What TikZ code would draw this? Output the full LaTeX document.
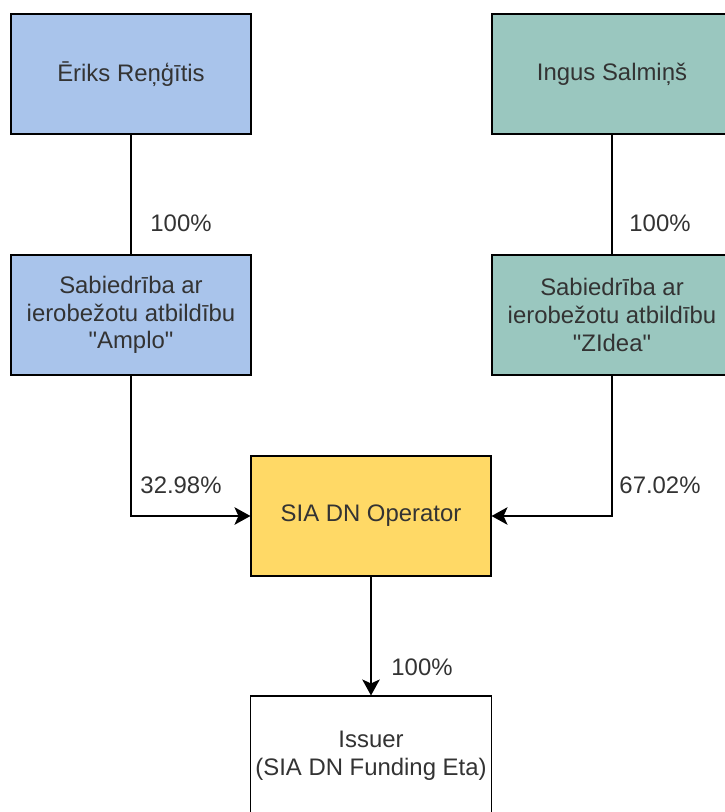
\documentclass[tikz,border=0pt]{standalone}
\usepackage{fontspec}
\setmainfont{Liberation Sans}
\definecolor{OwnerBlue}{HTML}{A9C4EB}
\definecolor{OwnerTeal}{HTML}{9AC7BF}
\definecolor{OperatorGold}{HTML}{FFD966}
\definecolor{BoxBlack}{HTML}{000000}
\definecolor{TextGrey}{HTML}{333333}
\usetikzlibrary{arrows.meta,positioning}
\tikzset{
    % Base box style
    basebox/.style={
        draw=BoxBlack,
        fill=white,
        line width=0.8pt,
        minimum height=3cm,
        minimum width=6cm,
        align=center,
        text=TextGrey,
        font=\fontsize{17}{19.6}\selectfont
    },
    % Person boxes
    personblue/.style={basebox, fill=OwnerBlue},
    personteal/.style={basebox, fill=OwnerTeal},
    % Operator box
    operatorbox/.style={basebox, fill=OperatorGold},
    % Share labels
    sharelabel/.style={
        text=TextGrey,
        font=\fontsize{17}{19.6}\selectfont
    },
    % Plain line
    ownline/.style={
        line width=0.8pt,
        draw=BoxBlack
    },
    % Arrow style
    ownarrow/.style={
        -{Stealth[length=0.4cm,width=0.44cm,inset=0.1cm]},
        line width=0.8pt,
        draw=BoxBlack
    }
}
\begin{document}
\begin{tikzpicture}
    \useasboundingbox (0,0) rectangle (18.1,-20.3);
    \node[personblue] (eriks) at (3.275,-1.85) {Ēriks Reņģītis};
    \node[personteal] (ingus) at (15.3,-1.85) {Ingus Salmiņš};
    \node[personblue] (amplo) at (3.275,-7.875) {Sabiedrība ar\\ierobežotu atbildību\\\textquotedbl Amplo\textquotedbl};
    \node[personteal] (zidea) at (15.3,-7.875) {Sabiedrība ar\\ierobežotu atbildību\\\textquotedbl ZIdea\textquotedbl};
    \node[operatorbox] (operator) at (9.275,-12.9) {SIA DN Operator};
    \node[basebox] (issuer) at (9.275,-18.9) {Issuer\\(SIA DN Funding Eta)};

    \draw[ownline] (eriks) -- (amplo);
    \draw[ownline] (ingus) -- (zidea);
    \draw[ownarrow] (amplo.south) |- (operator.west);
    \draw[ownarrow] (zidea.south) |- (operator.east);
    \draw[ownarrow] (operator) -- (issuer);

    \node[sharelabel] (share1) at (4.525,-5.575) {100\%};
    \node[sharelabel] (share2) at (16.5,-5.575) {100\%};
    \node[sharelabel] (share3) at (4.525,-12.125) {32.98\%};
    \node[sharelabel] (share4) at (16.5,-12.125) {67.02\%};
    \node[sharelabel] (share5) at (10.55,-16.675) {100\%};
\end{tikzpicture}
\end{document}
